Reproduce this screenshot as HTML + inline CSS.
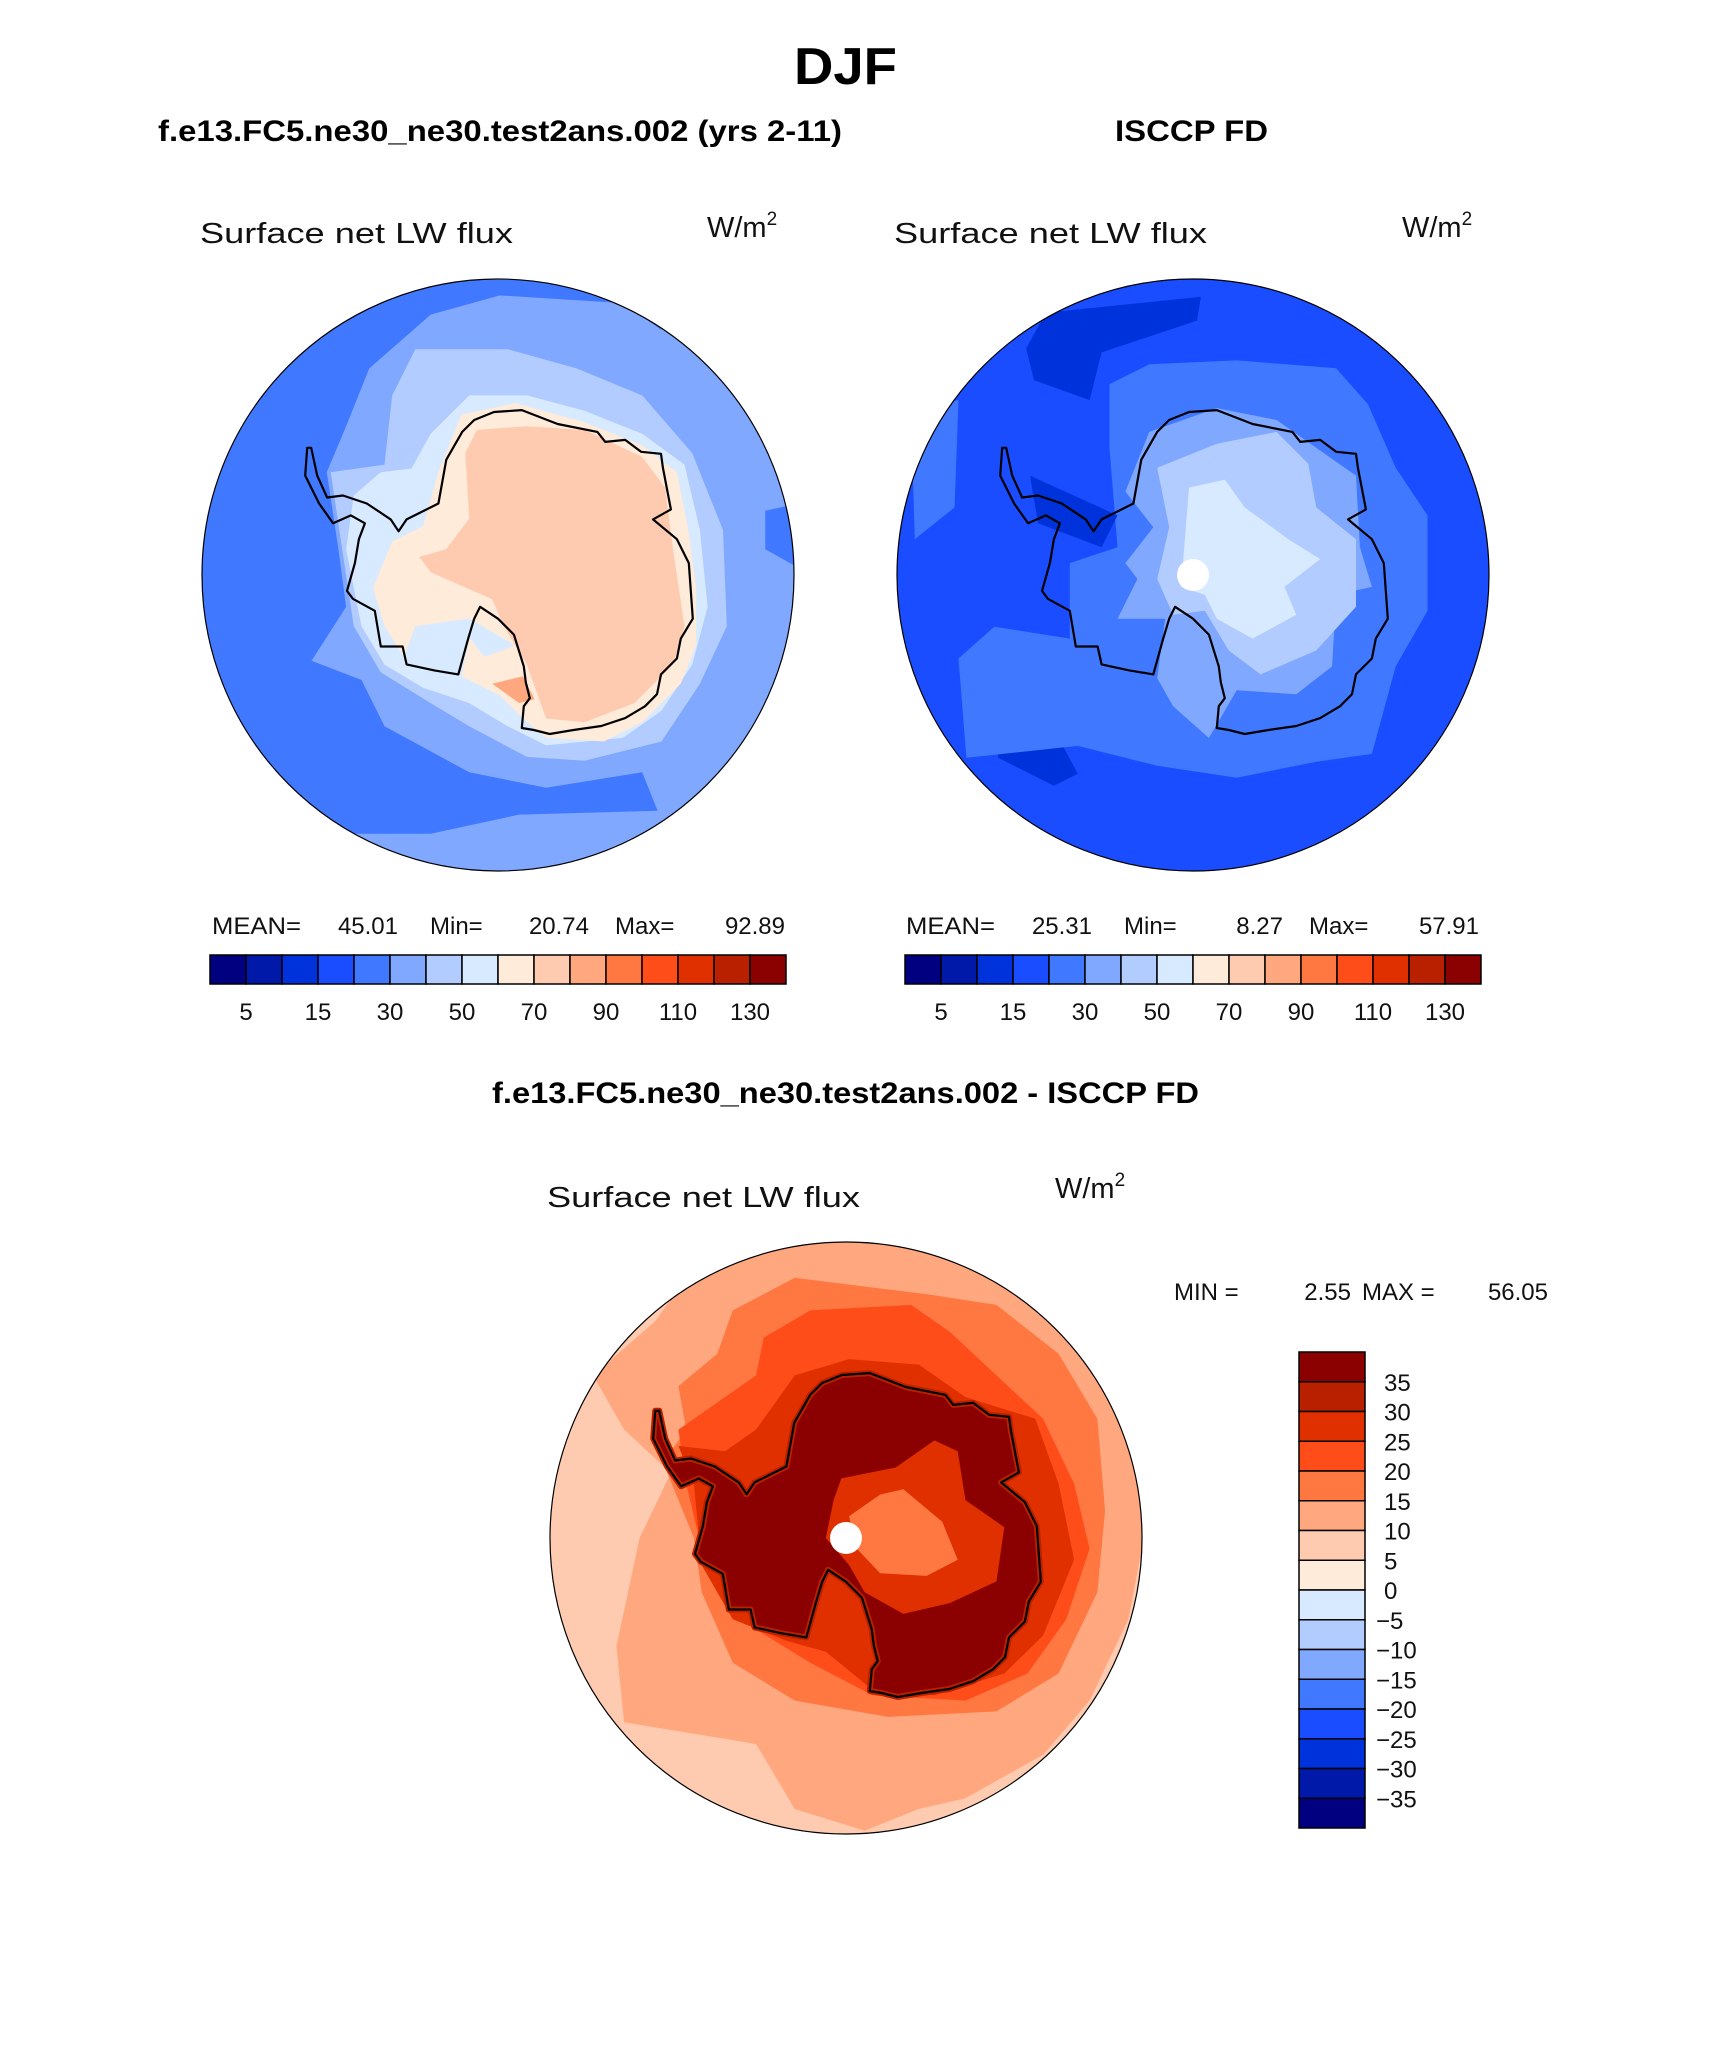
<!DOCTYPE html>
<html><head><meta charset="utf-8"><style>
body{margin:0;background:#fff;}
svg{display:block;font-family:"Liberation Sans",sans-serif;}
.t{font-weight:bold;fill:#000;}
.l{fill:#111;font-size:29px;}
</style></head><body>
<svg id="fig" width="1710" height="2061" viewBox="0 0 1710 2061">
<text x="794" y="84" textLength="103" lengthAdjust="spacingAndGlyphs" class="t" font-size="52">DJF</text>
<text x="158" y="141" textLength="684" lengthAdjust="spacingAndGlyphs" class="t" font-size="30">f.e13.FC5.ne30_ne30.test2ans.002 (yrs 2-11)</text>
<text x="1115" y="141" textLength="153" lengthAdjust="spacingAndGlyphs" class="t" font-size="30">ISCCP FD</text>
<text x="492" y="1103" textLength="707" lengthAdjust="spacingAndGlyphs" class="t" font-size="30">f.e13.FC5.ne30_ne30.test2ans.002 - ISCCP FD</text>

<text x="200" y="243" textLength="313" lengthAdjust="spacingAndGlyphs" class="l">Surface net LW flux</text>
<text x="707" y="237" class="l">W/m<tspan font-size="19" dy="-12">2</tspan></text>
<text x="894" y="243" textLength="313" lengthAdjust="spacingAndGlyphs" class="l">Surface net LW flux</text>
<text x="1402" y="237" class="l">W/m<tspan font-size="19" dy="-12">2</tspan></text>
<text x="547" y="1207" textLength="313" lengthAdjust="spacingAndGlyphs" class="l">Surface net LW flux</text>
<text x="1055" y="1198" class="l">W/m<tspan font-size="19" dy="-12">2</tspan></text>

<g font-size="24" fill="#111">
<text x="212" y="934" textLength="89" lengthAdjust="spacingAndGlyphs">MEAN=</text><text x="398" y="934" text-anchor="end">45.01</text>
<text x="430" y="934">Min=</text><text x="589" y="934" text-anchor="end">20.74</text>
<text x="615" y="934">Max=</text><text x="785" y="934" text-anchor="end">92.89</text>
</g>
<g font-size="24" fill="#111">
<text x="906" y="934" textLength="89" lengthAdjust="spacingAndGlyphs">MEAN=</text><text x="1092" y="934" text-anchor="end">25.31</text>
<text x="1124" y="934">Min=</text><text x="1283" y="934" text-anchor="end">8.27</text>
<text x="1309" y="934">Max=</text><text x="1479" y="934" text-anchor="end">57.91</text>
</g>
<g font-size="24" fill="#111">
<text x="1174" y="1300">MIN =</text><text x="1351" y="1300" text-anchor="end">2.55</text>
<text x="1362" y="1300">MAX =</text><text x="1548" y="1300" text-anchor="end">56.05</text>
</g>
<g id="maps"></g>
<g id="bars"></g>
</svg>
<script>
const palette=["#000080","#0019a8","#0032dc","#1a4dff","#4078ff","#80a8ff","#b3ccff","#d8eaff","#ffebd9","#ffcbb0","#ffa880","#ff7842","#ff4d1a","#e03000","#b82000","#8b0000"];
const hLabels=["5","15","30","50","70","90","110","130"];
const vLabels=["35","30","25","20","15","10","5","0","\u22125","\u221210","\u221215","\u221220","\u221225","\u221230","\u221235"];
const coast=[[320,450],[335,520],[360,575],[400,570],[460,590],[520,630],[540,660],[560,630],[640,590],[660,480],[700,410],[730,380],[780,360],[850,355],[940,390],[1040,410],[1060,435],[1110,430],[1150,460],[1200,465],[1205,500],[1225,605],[1180,630],[1240,680],[1270,740],[1280,880],[1250,930],[1240,980],[1200,1020],[1190,1070],[1160,1100],[1110,1130],[1050,1150],[980,1160],[920,1170],[880,1160],[850,1155],[855,1100],[870,1080],[860,1040],[855,1000],[830,920],[790,880],[745,850],[730,880],[715,930],[690,1020],[630,1010],[560,995],[550,950],[495,950],[480,860],[425,830],[410,810],[430,740],[440,680],[455,640],[420,620],[375,640],[340,590],[305,520],[310,450]];
const leftLayers=[
[4,[[0,0],[1150,0],[1200,130],[1100,60],[780,40],[600,90],[440,230],[380,380],[330,500],[360,700],[380,850],[290,990],[420,1040],[480,1160],[700,1280],[900,1320],[1150,1280],[1190,1380],[830,1390],[600,1440],[400,1440],[300,1500],[0,1560]]],
[4,[[1470,600],[1560,580],[1560,750],[1470,700]]],
[6,[[500,300],[560,180],[800,180],[980,230],[1150,300],[1280,450],[1360,650],[1370,900],[1300,1050],[1200,1200],[1000,1250],[850,1240],[700,1160],[600,1100],[470,1020],[400,900],[370,700],[340,500],[480,480]]],
[7,[[600,400],[700,300],[850,300],[1000,340],[1150,400],[1260,480],[1300,650],[1320,850],[1280,1000],[1200,1120],[1100,1190],[900,1210],[800,1160],[700,1100],[580,1060],[480,1000],[420,900],[380,700],[400,560],[470,500],[550,490]]],
[8,[[620,500],[680,350],[820,320],[1000,370],[1150,430],[1240,500],[1270,650],[1290,800],[1290,950],[1250,1050],[1150,1150],[1050,1200],[900,1190],[840,1140],[780,1080],[680,1030],[700,930],[740,980],[820,950],[700,880],[560,900],[530,980],[480,900],[450,800],[500,680],[580,640]]],
[9,[[690,450],[720,390],[850,380],[1000,390],[1150,460],[1210,540],[1230,700],[1260,900],[1230,1000],[1130,1100],[1000,1150],[900,1140],[850,1000],[790,900],[760,830],[600,760],[570,720],[640,700],[700,620]]],
[10,[[760,1050],[840,1030],[870,1090],[830,1100]]]];
const rightLayers=[
[2,[[370,200],[420,110],[810,70],[800,130],[560,210],[530,330],[390,280]]],
[2,[[290,1060],[420,1120],[500,1270],[440,1300],[300,1230]]],
[4,[[580,290],[680,240],[900,230],[1150,250],[1230,340],[1300,500],[1380,620],[1380,860],[1300,1000],[1240,1220],[1100,1240],[900,1280],[700,1250],[500,1200],[220,1230],[200,980],[290,900],[480,930],[480,740],[600,700],[580,450]]],
[4,[[80,350],[200,330],[190,600],[90,680]]],
[2,[[380,520],[600,620],[560,700],[400,640]]],
[5,[[620,560],[680,410],[850,350],[1000,380],[1100,450],[1200,520],[1210,700],[1240,800],[1150,820],[1140,1000],[1050,1070],[900,1060],[830,1180],[740,1100],[700,1030],[720,880],[600,880],[650,780],[620,740],[690,650]]],
[6,[[700,500],[850,440],[1000,410],[1080,490],[1100,600],[1200,680],[1200,850],[1100,960],[960,1020],[880,960],[820,860],[740,870],[700,780],[730,650]]],
[7,[[780,550],[870,530],[920,600],[1030,680],[1110,730],[1020,800],[1050,870],[940,930],[850,880],[820,820],[760,800]]]];
const diffLayers=[
[10,[[240,420],[300,370],[450,350],[600,380],[700,440],[780,560],[820,700],[830,900],[810,1050],[760,1200],[700,1300],[600,1380],[540,1400],[470,1440],[380,1400],[330,1280],[160,1240],[150,1100],[180,900],[220,780],[160,700],[120,600],[200,500]]],
[11,[[300,480],[380,420],[550,450],[640,470],[720,560],[770,680],[780,850],[770,1000],[720,1150],[640,1220],[500,1230],[380,1200],[300,1130],[260,1000],[250,900],[210,760],[240,700],[230,620],[280,560]]],
[12,[[340,530],[400,480],[530,470],[580,520],[640,600],[700,680],[740,800],[760,920],[730,1050],[680,1150],[600,1200],[480,1190],[400,1130],[320,1060],[280,990],[260,920],[240,800],[230,700],[280,650],[330,600]]],
[13,[[380,600],[450,570],[540,580],[600,640],[690,680],[720,800],[740,940],[700,1080],[650,1150],[560,1190],[480,1180],[420,1110],[370,1090],[300,1050],[260,950],[250,800],[230,730],[290,740],[330,700],[360,640]]]];
const diffInner=[
[13,[[440,790],[510,770],[560,720],[590,740],[600,830],[650,880],[640,980],[580,1020],[520,1040],[470,1000],[450,950],[420,900],[430,830]]],
[11,[[450,860],[490,820],[520,810],[570,870],[590,940],[550,970],[490,965],[460,920]]]];
const NS="http://www.w3.org/2000/svg";
function el(t,a,p){const e=document.createElementNS(NS,t);for(const k in a)e.setAttribute(k,a[k]);p.appendChild(e);return e;}
const coastT=p=>[(p[0]-790)/2.516,(p[1]-770)/2.516];
const leftT=p=>[(p[0]-775)/2.6,(p[1]-767)/2.6];
const rightT=coastT;
const diffT=p=>[(p[0]-446)/1.289,(p[1]-900)/1.845];
function pts(arr,T){return arr.map(p=>T(p).map(v=>v.toFixed(1)).join(",")).join(" ");}
const maps=document.getElementById("maps");
function drawMap(name,cx,cy,bg,layers,T,coastFill,inner2,pole){
  const g=el("g",{transform:`translate(${cx},${cy})`},maps);
  
  
  const cp=el("clipPath",{id:name+"-clip"},g);el("circle",{r:296},cp);
  const inner=el("g",{"clip-path":`url(#${name}-clip)`},g);
  el("circle",{r:298,fill:palette[bg]},inner);
  layers.forEach(L=>{const p=el("polygon",{points:pts(L[1],T),fill:palette[L[0]],"stroke-linejoin":"round"},inner);
    
    });
  if(coastFill){
    const c1=el("polygon",{points:pts(coast,coastT),fill:palette[coastFill[0]],stroke:palette[coastFill[1]],"stroke-width":6,"stroke-linejoin":"round"},inner);
    
    
    inner2.forEach(L=>{const p=el("polygon",{points:pts(L[1],T),fill:palette[L[0]]},inner);
      
      });
  }
  if(pole){const c=el("circle",{r:16,fill:"#fff"},inner);
    
    }
  const cl=el("polygon",{points:pts(coast,coastT),fill:"none",stroke:"#000","stroke-width":2.2,"stroke-linejoin":"round"},g);
  
  
  const b=el("circle",{r:296,fill:"none",stroke:"#000","stroke-width":1.2},g);
  
  
}
drawMap("model-map",498,575,5,leftLayers,leftT,null,[],false);
drawMap("obs-map",1193,575,3,rightLayers,rightT,null,[],true);
drawMap("diff-map",846,1538,9,diffLayers,diffT,[15,14],diffInner,true);
const bars=document.getElementById("bars");
function hbar(name,x0,x1,y0,y1){
  const w=(x1-x0)/palette.length;
  palette.forEach((c,i)=>{const r=el("rect",{x:x0+i*w,y:y0,width:w,height:y1-y0,fill:c,stroke:"#000","stroke-width":1.5},bars);
    
    });
  hLabels.forEach((t,i)=>{const tx=el("text",{x:x0+(1+2*i)*w,y:y1+36,"text-anchor":"middle","font-size":24,fill:"#111"},bars);tx.textContent=t;
    
    });
}
hbar("model-colorbar",210,786,955,984);
hbar("obs-colorbar",905,1481,955,984);
(function(){const x0=1299,x1=1365,y0=1352,y1=1828,h=(y1-y0)/palette.length;
  palette.slice().reverse().forEach((c,i)=>{const r=el("rect",{x:x0,y:y0+i*h,width:x1-x0,height:h,fill:c,stroke:"#000","stroke-width":1.5},bars);
    
    });
  vLabels.forEach((t,i)=>{const tx=el("text",{x:t[0]=="\u2212"?1376:1384,y:y0+(i+1)*h+9,"font-size":24,fill:"#111"},bars);tx.textContent=t;
    
    });
})();
</script>
</body></html>
